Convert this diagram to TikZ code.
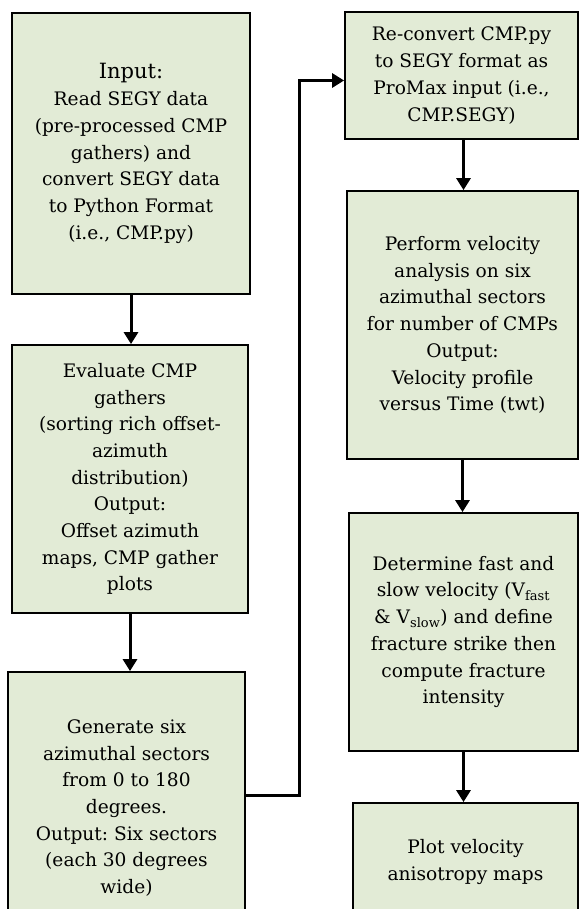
\documentclass[tikz,border=0pt]{standalone}
\usepackage{fontspec}
\setmainfont{DejaVu Serif}
\usetikzlibrary{arrows.meta}
\definecolor{boxgreen}{RGB}{226,235,214}
\frenchspacing
\tikzset{
  stepbox/.style={draw=black, fill=boxgreen, line width=1.8pt, align=center,
    inner sep=0pt, font=\fontsize{18.6}{26.7}\selectfont},
  flow/.style={line width=3pt, -{Triangle[width=14pt,length=12pt]}}
}
\begin{document}
\begin{tikzpicture}[x=1pt, y=-1pt]
  \useasboundingbox (0,0) rectangle (579,909);
  \clip (0,0) rectangle (579,909);

  % left column
  \node[stepbox, minimum width=238pt, minimum height=281pt, name=input] at (131,153.5)
    {{\fontsize{21}{26.7}\selectfont Input:}\\Read SEGY data\\(pre-processed CMP\\gathers) and\\convert SEGY data\\to Python Format\\(i.e., CMP.py)};
  \node[stepbox, minimum width=236pt, minimum height=268pt, name=eval] at (130,479)
    {Evaluate CMP\\gathers\\(sorting rich offset-\\azimuth\\distribution)\\Output:\\Offset azimuth\\maps, CMP gather\\plots};
  \node[stepbox, minimum width=237pt, minimum height=272pt, name=gen] at (126.5,808)
    {Generate six\\azimuthal sectors\\from 0 to 180\\degrees.\\Output: Six sectors\\(each 30 degrees\\wide)};

  % right column
  \node[stepbox, minimum width=233pt, minimum height=127pt, name=reconv] at (461.5,75.5)
    {Re-convert CMP.py\\to SEGY format as\\ProMax input (i.e.,\\CMP.SEGY)};
  \node[stepbox, minimum width=231pt, minimum height=268pt, name=perform] at (462.5,325)
    {Perform velocity\\analysis on six\\azimuthal sectors\\for number of CMPs\\Output:\\Velocity profile\\versus Time (twt)};
  \node[stepbox, minimum width=229pt, minimum height=238pt, name=determine] at (463.5,632)
    {Determine fast and\\slow velocity (V\textsubscript{fast}\\\& V\textsubscript{slow}) and define\\fracture strike then\\compute fracture\\intensity};
  \node[stepbox, minimum width=225pt, minimum height=118pt, name=plot] at (465.5,862)
    {Plot velocity\\anisotropy maps};

  % arrows
  \draw[flow] (input.south) -- (input.south |- eval.north);
  \draw[flow] (eval.south) -- (eval.south |- gen.north);
  \draw[flow] ([yshift=13pt]gen.east) -- ++(54,0) |- ([yshift=-5pt]reconv.west);
  \draw[flow] ([xshift=2pt]reconv.south) -- ([xshift=2pt]reconv.south |- perform.north);
  \draw[flow] (perform.south) -- (perform.south |- determine.north);
  \draw[flow] (determine.south) -- (determine.south |- plot.north);
\end{tikzpicture}
\end{document}
